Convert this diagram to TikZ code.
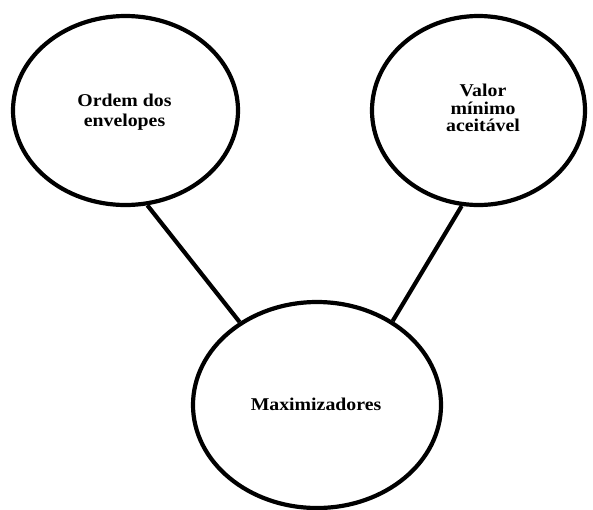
\documentclass[tikz,border=0pt]{standalone}
\usepackage{fontspec}
\setmainfont{Liberation Serif}[FakeStretch=1.1]
\usetikzlibrary{shapes.geometric}
\tikzset{
  bubble/.style={ellipse, draw=black, line width=4.2pt, fill=white, inner sep=0pt},
  label text/.style={align=center, font=\fontsize{18}{19.5}\selectfont\bfseries},
  link/.style={draw=black, line width=4.2pt}
}
\begin{document}
\begin{tikzpicture}[x=1pt,y=-1pt]
\useasboundingbox (0,0) rectangle (593,509);
\node[bubble, minimum width=225pt, minimum height=189pt] (L) at (125.5,110.5) {};
\node[bubble, minimum width=213pt, minimum height=189pt] (R) at (478.5,110.5) {};
\node[bubble, minimum width=248pt, minimum height=206pt] (B) at (317,405) {};
\node[label text] (Lt) at (124.5,112) {Ordem dos\\envelopes};
\node[label text, font=\fontsize{18}{17.5}\selectfont\bfseries] (Rt) at (483,108) {Valor\\mínimo\\aceitável};
\node[label text] (Bt) at (316,404) {Maximizadores};
\draw[link] (L.-77) -- (B.133);
\draw[link] (R.-100) -- (B.48.5);
\end{tikzpicture}
\end{document}
